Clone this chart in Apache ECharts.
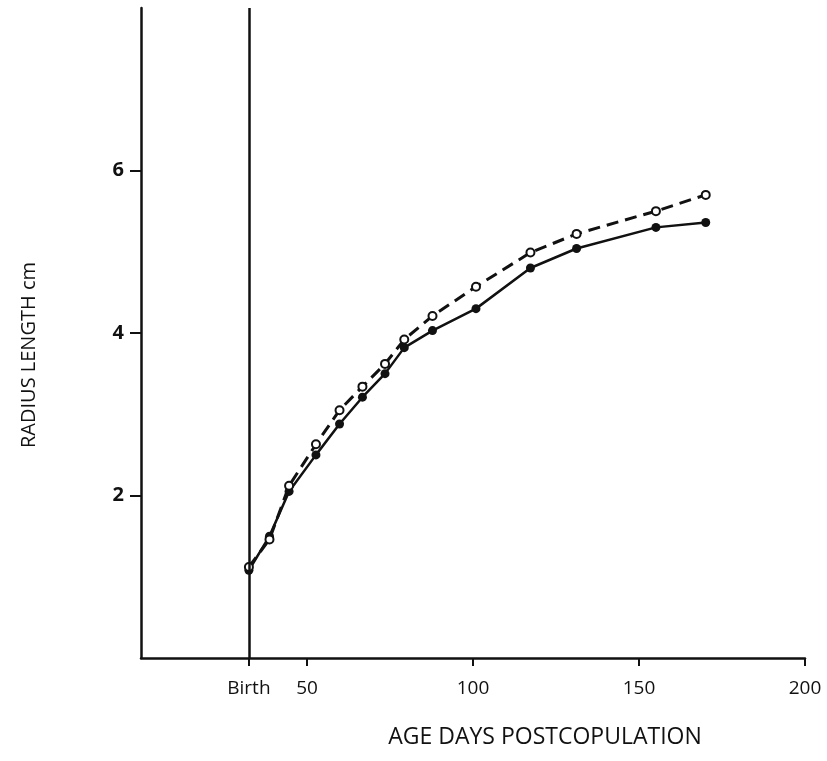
<!DOCTYPE html>
<html>
<head>
<meta charset="utf-8">
<script src="https://cdn.jsdelivr.net/npm/echarts@6/dist/echarts.min.js"></script>
<style>
html,body{margin:0;padding:0;background:#fff;}
#chart{width:827px;height:761px;}
</style>
</head>
<body>
<div id="chart"></div>
<script>
var birthDay = 32.5;
var days = [32.5, 38.7, 44.6, 52.7, 59.8, 66.7, 73.5, 79.3, 87.8, 100.9, 117.3, 131.2, 155.1, 170.1];
var solidValues = [1.08, 1.50, 2.05, 2.50, 2.88, 3.21, 3.50, 3.82, 4.03, 4.30, 4.80, 5.04, 5.30, 5.36];
var openValues = [1.12, 1.46, 2.12, 2.63, 3.05, 3.34, 3.62, 3.92, 4.21, 4.57, 4.99, 5.22, 5.50, 5.70];
var xTickValues = [birthDay, 50, 100, 150, 200];
var yTickValues = [2, 4, 6];
var xAxisTitle = 'AGE DAYS POSTCOPULATION';
var yAxisTitle = 'RADIUS LENGTH cm';

function pairs(xs, ys) { return xs.map(function (x, i) { return [x, ys[i]]; }); }

var FONT = 'Open Sans';
var chart = echarts.init(document.getElementById('chart'));
chart.setOption({
  backgroundColor: '#ffffff',
  animation: false,
  grid: { left: 141, right: 22, top: 8, bottom: 103 },
  xAxis: {
    type: 'value', min: 0, max: 200,
    splitLine: { show: false },
    axisLine: { show: true, onZero: false, lineStyle: { color: '#111', width: 2.5 } },
    axisTick: { show: true, length: 8, lineStyle: { color: '#111', width: 2 }, customValues: xTickValues },
    axisLabel: {
      customValues: xTickValues, margin: 21, color: '#111', fontFamily: FONT, fontSize: 19,
      formatter: function (v) { return v === birthDay ? 'Birth' : String(v); }
    },
    name: xAxisTitle, nameLocation: 'middle', nameGap: 68,
    nameTextStyle: { color: '#111', fontFamily: FONT, fontSize: 23, padding: [0, 0, 0, 144] }
  },
  yAxis: {
    type: 'value', min: 0, max: 8,
    splitLine: { show: false },
    axisLine: { show: true, onZero: false, lineStyle: { color: '#111', width: 2.5 } },
    axisTick: { show: true, length: 11, lineStyle: { color: '#111', width: 2 }, customValues: yTickValues },
    axisLabel: { customValues: yTickValues, margin: 17, color: '#111', fontFamily: FONT, fontSize: 20, fontWeight: 'bold' },
    name: yAxisTitle, nameLocation: 'middle', nameGap: 102, nameRotate: 90,
    nameTextStyle: { color: '#111', fontFamily: FONT, fontSize: 20, padding: [0, 44, 0, 0] }
  },
  series: [
    {
      type: 'line', name: 'solid', data: pairs(days, solidValues),
      symbol: 'circle', symbolSize: 9,
      lineStyle: { color: '#111', width: 2.5 },
      itemStyle: { color: '#111' },
      markLine: {
        silent: true, symbol: ['none', 'none'], label: { show: false },
        lineStyle: { color: '#111', width: 2.5, type: 'solid' },
        data: [{ xAxis: birthDay }]
      },
      z: 3
    },
    {
      type: 'line', name: 'open', data: pairs(days, openValues),
      symbol: 'circle', symbolSize: 8,
      lineStyle: { color: '#111', width: 3, type: [12, 7] },
      itemStyle: { color: '#fff', borderColor: '#111', borderWidth: 2 },
      z: 4
    }
  ]
});
</script>
</body>
</html>
